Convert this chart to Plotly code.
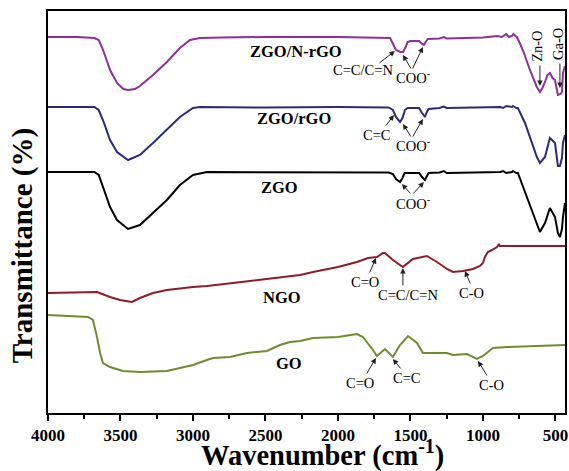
import plotly.graph_objects as go

# ---- data (wavenumber in cm^-1, transmittance in arbitrary offset units) ----
zngo_wn = [4000, 3800, 3680, 3650, 3620, 3572, 3524, 3480, 3448, 3400, 3366, 3276, 3180, 3090, 3021, 2952,
           2800, 2500, 2000, 1700, 1640, 1620, 1600, 1570, 1550, 1530, 1520, 1500, 1440, 1420, 1407, 1395,
           1380, 1300, 1270, 1250, 1100, 1000, 900, 870, 840, 820, 800, 790, 775, 766, 740, 717, 676, 640,
           628, 607, 590, 572, 555, 538, 520, 503, 490, 483, 465, 455, 448, 440, 434]
zngo_t = [376, 376, 375, 373, 363, 343, 330, 324, 323, 324, 327, 338, 351, 365, 373, 375,
          375.5, 376, 376, 375.5, 375, 369, 363, 361, 361, 367, 371, 372, 372, 369, 368, 371,
          374, 374.5, 376, 374.5, 375, 375.5, 377, 376, 379, 376, 377, 379, 377, 376, 368, 360, 343, 329,
          326, 321, 325, 331, 338, 340, 335, 333, 323, 318, 319, 321, 340, 345, 347]

zrgo_wn = [4000, 3680, 3650, 3621, 3572, 3524, 3448, 3366, 3276, 3180, 3090, 3000, 2952, 2500, 2000, 1650,
           1621, 1600, 1572, 1555, 1538, 1520, 1440, 1420, 1400, 1390, 1375, 1300, 1270, 1250, 1000, 880,
           860, 840, 800, 793, 770, 759, 710, 662, 628, 607, 572, 538, 503, 483, 469, 455, 448, 434]
zrgo_t = [306, 306, 303, 293, 273, 261, 253, 258, 270, 283, 296, 305, 306, 305.5, 306, 305.5,
          303, 296, 291, 295, 303, 305, 305, 300, 296, 300, 304, 305, 306.5, 305, 305.5, 306,
          305, 307, 306, 307, 305, 305, 290, 270, 256, 250, 256, 275, 270, 247, 247, 255, 270, 278]

zgo_wn = [4000, 3680, 3650, 3621, 3572, 3524, 3448, 3366, 3276, 3180, 3090, 3000, 2904, 2000, 1650, 1621,
          1600, 1572, 1555, 1540, 1440, 1420, 1400, 1390, 1375, 1300, 1270, 1250, 1000, 880, 860, 840,
          800, 793, 770, 759, 710, 662, 628, 607, 572, 538, 503, 483, 469, 455, 448, 434]
zgo_t = [241, 241, 238, 226, 206, 193, 184, 188, 200, 213, 228, 238, 241, 241, 240.5, 239,
         234, 231, 235, 240, 240, 236, 233, 236, 240, 240.5, 242, 240, 240.5, 241, 242, 240,
         241, 242, 240, 240, 221, 203, 190, 181, 190, 205, 196, 180, 176, 184, 196, 210]

ngo_wn = [4000, 3800, 3662, 3572, 3503, 3421, 3366, 3276, 3180, 3000, 2904, 2724, 2490, 2400, 2262, 2172,
          2000, 1869, 1793, 1731, 1690, 1676, 1621, 1552, 1483, 1386, 1317, 1248, 1207, 1138, 1069, 1021,
          1000, 986, 966, 938, 903, 890, 883, 862, 434]
ngo_t = [120, 120.5, 121, 116, 113, 111, 115, 120, 123, 126, 127, 130, 134, 135, 138, 141,
         146, 151, 155, 156, 160, 160, 153, 146, 154, 157, 151, 144, 141, 142, 144, 147,
         150, 156, 161, 163, 166, 169, 167, 167, 167]

go_wn = [4000, 3724, 3690, 3662, 3641, 3621, 3572, 3483, 3366, 3180, 3090, 3000, 2904, 2862, 2745, 2628,
         2490, 2400, 2331, 2262, 2172, 2000, 1869, 1828, 1759, 1731, 1676, 1621, 1572, 1517, 1455, 1414,
         1248, 1207, 1110, 1041, 1000, 931, 834, 434]
go_t = [98, 96, 93, 76, 60, 50, 46, 42, 41, 42, 45, 48, 53, 55, 56, 60,
        62, 68, 71, 72, 75, 76, 79, 76, 63, 57, 64, 56, 68, 77, 70, 60,
        60, 58, 59, 54, 57, 65, 66, 68]

series_names = ["ZGO/N-rGO", "ZGO/rGO", "ZGO", "NGO", "GO"]
series_wn = [zngo_wn, zrgo_wn, zgo_wn, ngo_wn, go_wn]
series_t = [zngo_t, zrgo_t, zgo_t, ngo_t, go_t]
series_colors = ["#8E2F9C", "#2B2B7A", "#000000", "#8E1B2C", "#6F8B30"]

# sample label positions (wavenumber, transmittance)
label_wn = [2290, 2303, 2400, 2386, 2338]
label_t = [362, 295, 226, 116, 50]

# band labels: text, position
band_text = ["C=C/C=N", "COO<sup>-</sup>", "C=C", "COO<sup>-</sup>", "COO<sup>-</sup>",
             "C=O", "C=C/C=N", "C-O", "C=O", "C=C", "C-O"]
band_wn = [1828, 1483, 1731, 1483, 1483, 1814, 1517, 1076, 1848, 1524, 938]
band_t = [343, 336, 278, 268, 210, 131, 118, 120, 30, 35, 28]

# rotated band labels
rot_text = ["Zn-O", "Ga-O"]
rot_wn = [628, 483]
rot_t = [367, 369]

# arrows: head (wn, t) and tail (wn, t)
arrow_head_wn = [1607, 1552, 1414, 607, 469, 1614, 1552, 1414, 1559, 1407, 1738, 1552, 1124, 1738, 1621, 1034]
arrow_head_t = [362, 358, 366, 327, 325, 298, 289, 294, 229, 231, 155, 145, 142, 55, 54, 52]
arrow_tail_wn = [1724, 1490, 1490, 607, 469, 1676, 1490, 1490, 1490, 1490, 1786, 1552, 1083, 1807, 1559, 966]
arrow_tail_t = [349, 343, 343, 349, 351, 286, 275, 275, 218, 218, 139, 126, 128, 38, 43, 36]

x_ticks = [4000, 3500, 3000, 2500, 2000, 1500, 1000, 500]

FONT = "Liberation Serif, Times New Roman, serif"

fig = go.Figure()
for name, wn, t, c in zip(series_names, series_wn, series_t, series_colors):
    fig.add_trace(go.Scatter(x=wn, y=t, mode="lines", name=name,
                             line=dict(color=c, width=2), showlegend=False))

annotations = []
for txt, xw, yt in zip(series_names, label_wn, label_t):
    annotations.append(dict(x=xw, y=yt, xref="x", yref="y", text=txt, showarrow=False,
                            font=dict(family=FONT, size=16.5, color="black", weight="bold")))
for txt, xw, yt in zip(band_text, band_wn, band_t):
    annotations.append(dict(x=xw, y=yt, xref="x", yref="y", text=txt, showarrow=False,
                            font=dict(family=FONT, size=14.5, color="black")))
for txt, xw, yt in zip(rot_text, rot_wn, rot_t):
    annotations.append(dict(x=xw, y=yt, xref="x", yref="y", text=txt, showarrow=False, textangle=-90,
                            font=dict(family=FONT, size=14.5, color="black")))
for hx, hy, tx, ty in zip(arrow_head_wn, arrow_head_t, arrow_tail_wn, arrow_tail_t):
    annotations.append(dict(x=hx, y=hy, ax=tx, ay=ty, xref="x", yref="y", axref="x", ayref="y",
                            text="", showarrow=True, arrowhead=2, arrowsize=1.1, arrowwidth=1,
                            arrowcolor="#222222", standoff=0, startstandoff=0))

# axis titles
annotations.append(dict(x=0.53, y=-0.1, xref="paper", yref="paper", xanchor="center", yanchor="middle",
                        text="Wavenumber (cm<sup>-1</sup>)", showarrow=False,
                        font=dict(family=FONT, size=28.5, color="black", weight="bold")))
annotations.append(dict(x=-0.05, y=0.415, xref="paper", yref="paper", xanchor="center", yanchor="middle",
                        text="Transmittance (%)", showarrow=False, textangle=-90,
                        font=dict(family=FONT, size=29, color="black", weight="bold")))

fig.update_layout(
    width=569, height=471,
    margin=dict(l=48, r=4, t=11, b=58, autoexpand=False),
    paper_bgcolor="white", plot_bgcolor="white",
    annotations=annotations,
    xaxis=dict(range=[4000, 434], tickvals=x_ticks, ticktext=[str(v) for v in x_ticks],
               ticks="outside", ticklen=6, tickwidth=1.5, tickcolor="black",
               minor=dict(dtick=250, tick0=0, ticks="outside", ticklen=4, tickwidth=1.5, tickcolor="black"),
               showline=True, linecolor="black", linewidth=2, mirror=True,
               showgrid=False, zeroline=False,
               tickfont=dict(family=FONT, size=17, color="black", weight="bold")),
    yaxis=dict(range=[0, 402], showticklabels=False, ticks="",
               showline=True, linecolor="black", linewidth=2, mirror=True,
               showgrid=False, zeroline=False),
)

fig.write_html("out.html", config={"displayModeBar": False},
               post_script="document.body.style.margin='0';document.body.style.padding='0';")
